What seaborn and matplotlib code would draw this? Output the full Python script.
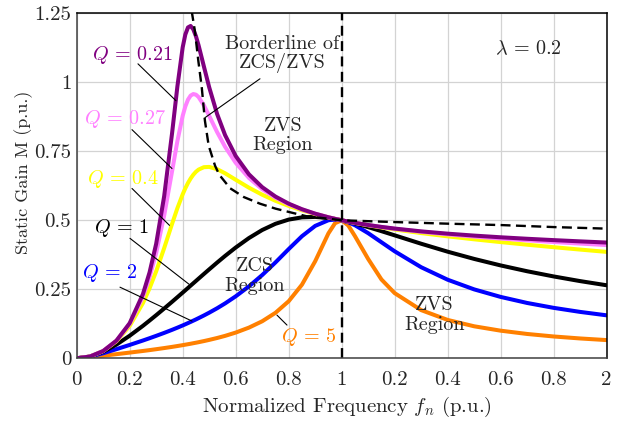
import matplotlib
matplotlib.use("Agg")
import matplotlib.pyplot as plt
import seaborn as sns
import pandas as pd

# ---------------- data ----------------
fn = [0, 0.05, 0.1, 0.15, 0.2, 0.25, 0.275, 0.3, 0.33, 0.36, 0.38, 0.40, 0.41,
      0.42, 0.43, 0.44, 0.45, 0.46, 0.48, 0.5, 0.53, 0.56, 0.6, 0.65, 0.7,
      0.75, 0.8, 0.85, 0.9, 0.95, 0.975, 1.0, 1.025, 1.05, 1.1, 1.15, 1.2,
      1.3, 1.4, 1.5, 1.6, 1.7, 1.8, 1.9, 2.0]

M_q021 = [0, 0.0063, 0.0264, 0.0640, 0.1272, 0.2326, 0.3110, 0.4151, 0.5865,
          0.8159, 0.9848, 1.1266, 1.1731, 1.1988, 1.2040, 1.1918, 1.1669,
          1.1338, 1.0575, 0.9820, 0.8848, 0.8086, 0.7329, 0.6665, 0.6200,
          0.5860, 0.5602, 0.5401, 0.5240, 0.5109, 0.5052, 0.5, 0.4952, 0.4908,
          0.4829, 0.4760, 0.4700, 0.4598, 0.4515, 0.4445, 0.4384, 0.4330,
          0.4281, 0.4236, 0.4193]
M_q027 = [0, 0.0063, 0.0263, 0.0634, 0.1245, 0.2230, 0.2931, 0.3817, 0.5166,
          0.6779, 0.7868, 0.8784, 0.9125, 0.9371, 0.9518, 0.9574, 0.9551,
          0.9465, 0.9166, 0.8784, 0.8194, 0.7664, 0.7083, 0.6534, 0.6128,
          0.5821, 0.5582, 0.5392, 0.5237, 0.5108, 0.5052, 0.5, 0.4952, 0.4907,
          0.4826, 0.4755, 0.4692, 0.4583, 0.4490, 0.4410, 0.4339, 0.4274,
          0.4213, 0.4156, 0.4101]
M_q04 = [0, 0.0063, 0.0260, 0.0616, 0.1174, 0.2000, 0.2534, 0.3151, 0.3988,
         0.4872, 0.5438, 0.5942, 0.6160, 0.6352, 0.6515, 0.6650, 0.6757,
         0.6836, 0.6924, 0.6934, 0.6851, 0.6703, 0.6469, 0.6181, 0.5926,
         0.5707, 0.5521, 0.5363, 0.5226, 0.5106, 0.5051, 0.5, 0.4951, 0.4905,
         0.4819, 0.4740, 0.4668, 0.4536, 0.4418, 0.4310, 0.4210, 0.4115,
         0.4025, 0.3938, 0.3855]
M_q1 = [0, 0.0062, 0.0235, 0.0496, 0.0817, 0.1176, 0.1367, 0.1562, 0.1802,
        0.2047, 0.2213, 0.2380, 0.2464, 0.2548, 0.2633, 0.2717, 0.2801,
        0.2886, 0.3054, 0.3221, 0.3468, 0.3708, 0.4012, 0.4356, 0.4647,
        0.4872, 0.5025, 0.5106, 0.5122, 0.5083, 0.5046, 0.5, 0.4946, 0.4886,
        0.4752, 0.4606, 0.4454, 0.4150, 0.3862, 0.3600, 0.3364, 0.3153,
        0.2965, 0.2796, 0.2645]
M_q2 = [0, 0.0057, 0.0183, 0.0330, 0.0484, 0.0644, 0.0727, 0.0813, 0.0919,
        0.1031, 0.1109, 0.1190, 0.1232, 0.1275, 0.1318, 0.1363, 0.1408,
        0.1455, 0.1551, 0.1652, 0.1813, 0.1988, 0.2244, 0.2605, 0.3015,
        0.3472, 0.3956, 0.4422, 0.4796, 0.5002, 0.5026, 0.5, 0.4929, 0.4821,
        0.4533, 0.4204, 0.3876, 0.3299, 0.2846, 0.2496, 0.2223, 0.2004,
        0.1827, 0.1680, 0.1556]
M_q5 = [0, 0.0039, 0.0094, 0.0149, 0.0206, 0.0265, 0.0296, 0.0329, 0.0370,
        0.0413, 0.0444, 0.0476, 0.0493, 0.0510, 0.0527, 0.0546, 0.0564,
        0.0583, 0.0623, 0.0666, 0.0735, 0.0812, 0.0931, 0.1111, 0.1341,
        0.1647, 0.2067, 0.2666, 0.3516, 0.4526, 0.4895, 0.5, 0.4810, 0.4427,
        0.3597, 0.2856, 0.2360, 0.1745, 0.1389, 0.1159, 0.1000, 0.0881,
        0.0790, 0.0718, 0.0659]

# borderline of ZCS/ZVS (dashed)
fn_border = [0.434, 0.446, 0.459, 0.472, 0.484, 0.498, 0.522, 0.538, 0.579,
             0.631, 0.692, 0.751, 0.814, 0.870, 0.937, 1.0, 1.2, 1.4, 1.6,
             1.8, 2.0]
M_border = [1.258, 1.186, 1.078, 0.981, 0.860, 0.771, 0.698, 0.665, 0.616,
            0.584, 0.560, 0.542, 0.527, 0.514, 0.507, 0.5, 0.4935, 0.4877,
            0.4827, 0.4754, 0.4697]

q_labels = ["0.21", "0.27", "0.4", "1", "2", "5"]
q_colors = ["#800080", "#FF80FF", "#FFFF00", "#000000", "#0000FF", "#FF8000"]

x_ticks = [0, 0.2, 0.4, 0.6, 0.8, 1.0, 1.2, 1.4, 1.6, 1.8, 2.0]
x_ticklabels = ["0", "0.2", "0.4", "0.6", "0.8", "1", "0.2", "0.4", "0.6", "0.8", "2"]
y_ticks = [0, 0.25, 0.5, 0.75, 1.0, 1.25]
y_ticklabels = ["0", "0.25", "0.5", "0.75", "1", "1.25"]

# ---------------- styling ----------------
sns.set_style("whitegrid", {"grid.color": "#d3d3d3", "axes.edgecolor": "black"})
plt.rcParams["font.family"] = ["cmr10", "DejaVu Serif"]
plt.rcParams["mathtext.fontset"] = "cm"
plt.rcParams["axes.unicode_minus"] = False
plt.rcParams["axes.formatter.use_mathtext"] = True

fig = plt.figure(figsize=(6.27, 4.23), dpi=100)
ax = fig.add_axes([0.1223, 0.1530, 0.8453, 0.8156])

series = [M_q021, M_q027, M_q04, M_q1, M_q2, M_q5]
frames = []
for lab, vals in zip(q_labels, series):
    frames.append(pd.DataFrame({"fn": fn, "M": vals, "Q": lab}))
df = pd.concat(frames, ignore_index=True)

# draw high-Q first so that Q = 0.21 ends on top
for lab, col in reversed(list(zip(q_labels, q_colors))):
    sub = df[df["Q"] == lab]
    sns.lineplot(data=sub, x="fn", y="M", color=col, lw=2.9, ax=ax,
                 legend=False, sort=False, zorder=3)

dash = (0, (4.2, 2.3))
sns.lineplot(x=fn_border, y=M_border, color="black", lw=1.7, ax=ax,
             sort=False, zorder=4)
ax.lines[-1].set_linestyle(dash)
ax.axvline(1.0, color="black", lw=1.7, ls=dash, zorder=4)

ax.set_xlim(0, 2)
ax.set_ylim(0, 1.25)
ax.set_xticks(x_ticks)
ax.set_xticklabels(x_ticklabels)
ax.set_yticks(y_ticks)
ax.set_yticklabels(y_ticklabels)
ax.tick_params(axis="both", labelsize=15, length=0)
ax.tick_params(axis="x", pad=9)
ax.tick_params(axis="y", pad=4)
ax.set_xlabel(r"Normalized Frequency $f_n$ (p.u.)", fontsize=15)
ax.set_ylabel("Static Gain M (p.u.)", fontsize=13)
ax.xaxis.set_label_coords(0.51, -0.106)
ax.yaxis.set_label_coords(-0.082, 0.54)
for name, sp in ax.spines.items():
    sp.set_linewidth(1.1)
    sp.set_color("#404040" if name in ("left", "bottom") else "black")
    sp.set_zorder(5)
ax.grid(True, color="#d3d3d3", lw=0.9)

fs = 14.5
# Q labels and leader lines
ax.text(0.2087, 1.0994, r"$Q\,=\,0.21$", color=q_colors[0], fontsize=fs, ha="center", va="center")
ax.text(0.182, 0.868, r"$Q\,=\,0.27$", color=q_colors[1], fontsize=fs, ha="center", va="center")
ax.text(0.175, 0.651, r"$Q\,=\,0.4$", color=q_colors[2], fontsize=fs, ha="center", va="center")
ax.text(0.171, 0.471, r"$Q\,=\,1$", color=q_colors[3], fontsize=fs, ha="center", va="center")
ax.text(0.1257, 0.308, r"$Q\,=\,2$", color=q_colors[4], fontsize=fs, ha="center", va="center")
ax.text(0.8766, 0.077, r"$Q\,=\,5$", color=q_colors[5], fontsize=fs, ha="center", va="center")

leaders = [((0.2313, 1.0668), (0.3747, 0.9332)),
           ((0.2087, 0.8284), (0.3596, 0.6875)),
           ((0.2087, 0.6153), (0.3502, 0.4816)),
           ((0.2011, 0.4346), (0.4238, 0.2684)),
           ((0.1634, 0.2576), (0.4351, 0.1348)),
           ((0.7558, 0.1564), (0.7936, 0.1203)),
           ((0.6917, 1.0127), (0.4842, 0.8718))]
for (a, b) in leaders:
    ax.annotate("", xy=b, xytext=a,
                arrowprops=dict(arrowstyle="-", color="black", lw=0.8,
                                shrinkA=0, shrinkB=0), zorder=6)

ax.text(1.7045, 1.121, r"$\lambda\,=\,0.2$", fontsize=fs, ha="center", va="center")
ax.text(0.7747, 1.1030, "Borderline of\nZCS/ZVS", fontsize=fs, ha="center",
        va="center", linespacing=1.0)
ax.text(0.7785, 0.8067, "ZVS\nRegion", fontsize=fs, ha="center", va="center",
        linespacing=1.1)
ax.text(0.6728, 0.2973, "ZCS\nRegion", fontsize=fs, ha="center", va="center",
        linespacing=1.1)
ax.text(1.349, 0.1564, "ZVS\nRegion", fontsize=fs, ha="center", va="center",
        linespacing=1.1)

fig.savefig("out.png", dpi=100)
